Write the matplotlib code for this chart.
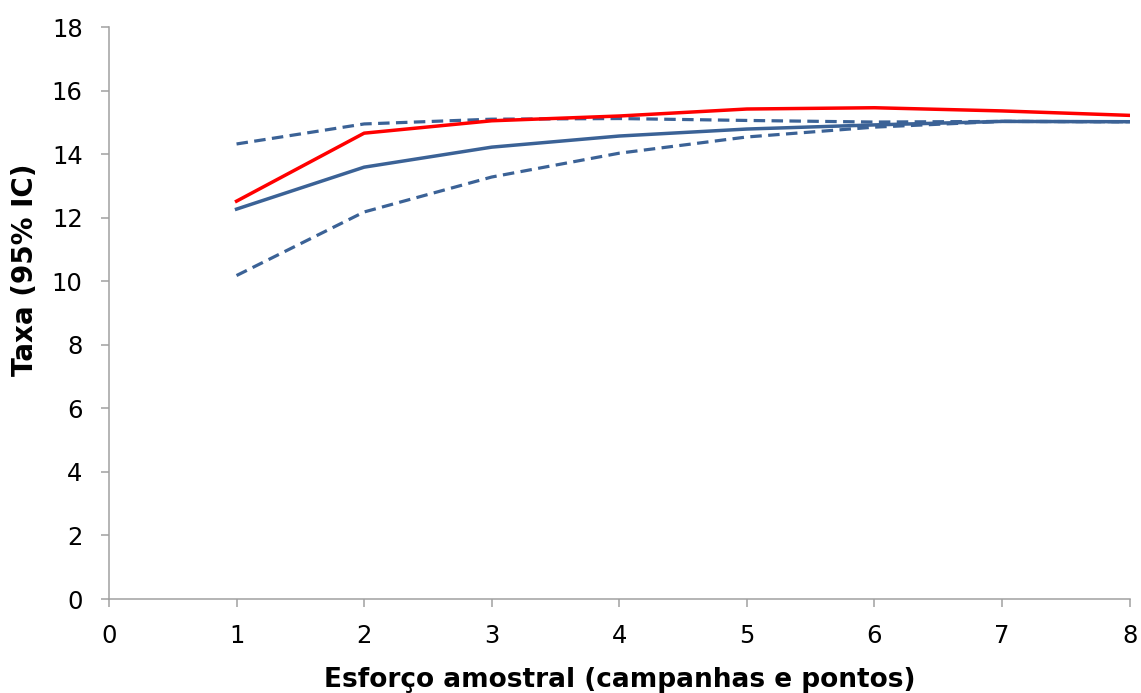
import matplotlib
matplotlib.use("Agg")
import matplotlib.pyplot as plt

# esforço amostral
x = [1, 2, 3, 4, 5, 6, 7, 8]
observado = [12.52, 14.66, 15.05, 15.2, 15.42, 15.46, 15.36, 15.22]
estimado = [12.27, 13.59, 14.22, 14.57, 14.79, 14.92, 15.03, 15.02]
ic_sup = [14.32, 14.95, 15.1, 15.12, 15.06, 15.01, 15.03, 15.02]
ic_inf = [10.18, 12.18, 13.28, 14.03, 14.54, 14.85, 15.03, 15.02]

azul = '#3B6296'

fig = plt.figure(figsize=(11.41, 6.93), dpi=100)
ax = fig.add_axes([0.0955, 0.1356, 0.8945, 0.8254])

ax.plot(x, ic_sup, color=azul, lw=2.3, ls=(0, (3.6, 2.0)))
ax.plot(x, ic_inf, color=azul, lw=2.3, ls=(0, (3.6, 2.0)))
ax.plot(x, estimado, color=azul, lw=2.5)
ax.plot(x, observado, color='#FF0000', lw=2.5)

ax.set_xlim(0, 8)
ax.set_ylim(0, 18)
ax.set_xticks(range(0, 9))
ax.set_yticks(range(0, 19, 2))
for s in ['top', 'right']:
    ax.spines[s].set_visible(False)
for s in ['left', 'bottom']:
    ax.spines[s].set_color('#A0A0A0')
    ax.spines[s].set_linewidth(1.1)
ax.tick_params(length=6, width=1.1, color='#A0A0A0', labelsize=17.5)
ax.tick_params(axis='y', pad=13)
ax.tick_params(axis='x', pad=12)

ax.set_xlabel('Esforço amostral (campanhas e pontos)', fontsize=19, fontweight='bold', labelpad=14)
ax.set_ylabel('Taxa (95% IC)', fontsize=20, fontweight='bold')
# o rótulo do eixo y fica um pouco acima do centro no original
ax.yaxis.set_label_coords(-0.069, 0.575)

fig.savefig('out.png', dpi=100)
